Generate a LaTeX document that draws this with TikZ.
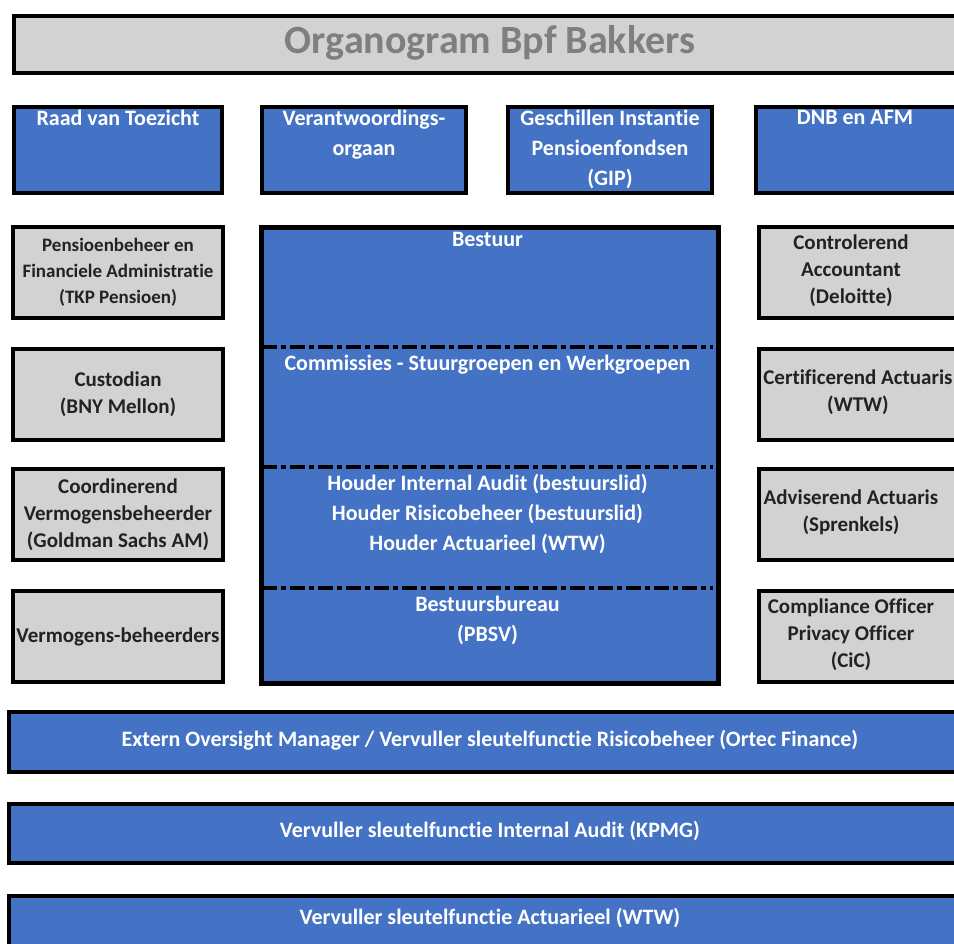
\documentclass[tikz,border=0pt]{standalone}
\usepackage{fontspec}
\setmainfont[Ligatures=NoCommon]{Carlito}
\usetikzlibrary{positioning}

\definecolor{orgblue}{HTML}{4472C4}
\definecolor{orggray}{HTML}{D3D2D2}
\definecolor{titlegray}{HTML}{7F7F7F}
\definecolor{darktext}{HTML}{222222}

\tikzset{
  box/.style={draw=black, line width=4bp, anchor=north west, inner sep=0pt},
  bluebox/.style={box, fill=orgblue},
  graybox/.style={box, fill=orggray, text=darktext, align=center,
    font=\bfseries\fontsize{21bp}{27bp}\selectfont},
  bluetext/.style={text=white, align=center, inner sep=0pt,
    font=\bfseries\fontsize{22bp}{30bp}\selectfont},
  barbox/.style={bluebox, anchor=north west},
  splitline/.style={line width=3.5bp, dash pattern=on 15bp off 4bp on 5bp off 4bp},
}

\begin{document}
\begin{tikzpicture}[x=1bp,y=-1bp]
  \fill[white] (0,0) rectangle (954,944);
  \useasboundingbox (0,0) rectangle (954,944);

  % titel
  \node[box, fill=orggray, minimum width=1000bp, minimum height=57bp] (title) at (12,14) {};
  \node[text=titlegray, font=\bfseries\fontsize{40bp}{48bp}\selectfont] (titletext) at (490,43) {Organogram Bpf Bakkers};

  % bovenste rij
  \node[bluebox, minimum width=208bp, minimum height=86bp] (rvt) at (12,105) {};
  \node[bluebox, minimum width=204bp, minimum height=86bp] (vo) at (260,105) {};
  \node[bluebox, minimum width=204bp, minimum height=86bp] (gip) at (506,105) {};
  \node[bluebox, minimum width=260bp, minimum height=86bp] (dnb) at (754,105) {};
  \node[bluetext, anchor=north] (rvttext) at ([yshift=-5bp]rvt.north) {Raad van Toezicht};
  \node[bluetext, anchor=north] (votext) at ([yshift=-5bp]vo.north) {Verantwoordings-\\orgaan};
  \node[bluetext, anchor=north] (giptext) at ([yshift=-5bp]gip.north) {Geschillen Instantie\\Pensioenfondsen\\(GIP)};
  \node[bluetext, anchor=north] (dnbtext) at (855,110) {DNB en AFM};

  % linker kolom
  \node[graybox, minimum width=210bp, minimum height=91bp,
    font=\bfseries\fontsize{19bp}{26bp}\selectfont] (tkp) at (11,225)
    {Pensioenbeheer en\\Financiele Administratie\\(TKP Pensioen)};
  \node[graybox, minimum width=210bp, minimum height=91bp] (bny) at (11,347) {Custodian\\(BNY Mellon)};
  \node[graybox, minimum width=210bp, minimum height=91bp] (gsam) at (11,467)
    {Coordinerend\\Vermogensbeheerder\\(Goldman Sachs AM)};
  \node[graybox, minimum width=210bp, minimum height=91bp] (vb) at (11,589) {Vermogens-beheerders};

  % rechter kolom
  \node[box, fill=orggray, minimum width=260bp, minimum height=91bp] (dt) at (757,225) {};
  \node[box, fill=orggray, minimum width=260bp, minimum height=91bp] (ca) at (757,347) {};
  \node[box, fill=orggray, minimum width=260bp, minimum height=91bp] (aa) at (757,467) {};
  \node[box, fill=orggray, minimum width=260bp, minimum height=91bp] (cic) at (757,589) {};
  \node[graybox, anchor=center, draw=none, fill=none] (dttext) at (851,270.5) {Controlerend\\Accountant\\(Deloitte)};
  \node[graybox, anchor=center, draw=none, fill=none] (catext) at (858,392.5) {Certificerend Actuaris\\(WTW)};
  \node[graybox, anchor=center, draw=none, fill=none] (aatext) at (851,512.5) {Adviserend Actuaris\\(Sprenkels)};
  \node[graybox, anchor=center, draw=none, fill=none] (cictext) at (851,634.5) {Compliance Officer\\Privacy Officer\\(CiC)};

  % bestuur
  \node[bluebox, line width=5bp, minimum width=457bp, minimum height=456bp] (bestuur) at (259,225) {};
  \draw[splitline] (262,347) -- (713,347);
  \draw[splitline] (262,467) -- (713,467);
  \draw[splitline] (262,588) -- (713,588);
  \node[bluetext, anchor=north] (bestuurtext) at (487.5,232) {Bestuur};
  \node[bluetext, anchor=north] (comtext) at (487.5,355) {Commissies - Stuurgroepen en Werkgroepen};
  \node[bluetext, anchor=north] (houdertext) at (487.5,474) {Houder Internal Audit (bestuurslid)\\Houder Risicobeheer (bestuurslid)\\Houder Actuarieel (WTW)};
  \node[bluetext, anchor=north] (pbsvtext) at (487.5,596) {Bestuursbureau\\(PBSV)};

  % sleutelfuncties
  \node[barbox, minimum width=1000bp, minimum height=60bp] (ortec) at (7,710) {};
  \node[bluetext] (ortectext) at (490,740) {Extern Oversight Manager / Vervuller sleutelfunctie Risicobeheer (Ortec Finance)};
  \node[barbox, minimum width=1000bp, minimum height=59bp] (kpmg) at (7,802) {};
  \node[bluetext] (kpmgtext) at (490,831) {Vervuller sleutelfunctie Internal Audit (KPMG)};
  \node[barbox, minimum width=1000bp, minimum height=60bp] (wtw) at (7,894) {};
  \node[bluetext] (wtwtext) at (490,918) {Vervuller sleutelfunctie Actuarieel (WTW)};
\end{tikzpicture}
\end{document}
